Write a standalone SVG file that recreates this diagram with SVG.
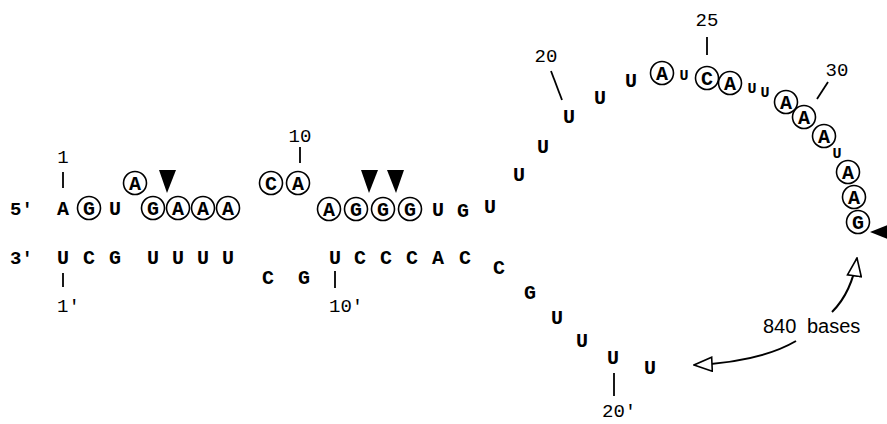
<svg xmlns="http://www.w3.org/2000/svg" width="887" height="424" viewBox="0 0 887 424">
<style>
.b{font-family:"Liberation Mono","DejaVu Sans Mono",monospace;font-weight:bold;font-size:20px;text-anchor:middle;fill:#000}
.s{font-family:"Liberation Mono","DejaVu Sans Mono",monospace;font-weight:bold;font-size:15px;text-anchor:middle;fill:#000}
.n{font-family:"Liberation Mono","DejaVu Sans Mono",monospace;font-size:19px;fill:#000}
.e{font-family:"Liberation Mono","DejaVu Sans Mono",monospace;font-weight:bold;font-size:19px;fill:#000}
.c{fill:#fff;stroke:#000;stroke-width:1.6}
.t{stroke:#000;stroke-width:1.8;fill:none}
.cut{fill:#000}
.arr{stroke:#000;stroke-width:2;fill:none;marker-end:url(#open)}
</style>
<defs>
<marker id="open" viewBox="-1 -1 20 16" refX="18" refY="7" markerWidth="20" markerHeight="16" markerUnits="userSpaceOnUse" orient="auto">
<polygon points="0,0 18,7 0,14" fill="#fff" stroke="#000" stroke-width="1.6"/>
</marker>
</defs>
<rect width="887" height="424" fill="#fff"/>

<g id="ends">
<text class="e" x="10" y="215">5'</text>
<text class="e" x="10" y="264">3'</text>
</g>

<g id="strand5">
<text class="b" x="63" y="215">A</text>
<circle class="c" cx="89" cy="208" r="11.5"/><text class="b" x="89" y="215">G</text>
<text class="b" x="115" y="215">U</text>
<circle class="c" cx="135" cy="183" r="11.5"/><text class="b" x="135" y="190">A</text>
<circle class="c" cx="153" cy="208" r="11.5"/><text class="b" x="153" y="215">G</text>
<circle class="c" cx="178" cy="208" r="11.5"/><text class="b" x="178" y="215">A</text>
<circle class="c" cx="203" cy="208" r="11.5"/><text class="b" x="203" y="215">A</text>
<circle class="c" cx="228" cy="208" r="11.5"/><text class="b" x="228" y="215">A</text>
<circle class="c" cx="271" cy="183" r="11.5"/><text class="b" x="271" y="190">C</text>
<circle class="c" cx="298" cy="183" r="11.5"/><text class="b" x="298" y="190">A</text>
<circle class="c" cx="329" cy="209" r="11.5"/><text class="b" x="329" y="216">A</text>
<circle class="c" cx="356" cy="209" r="11.5"/><text class="b" x="356" y="216">G</text>
<circle class="c" cx="383" cy="209" r="11.5"/><text class="b" x="383" y="216">G</text>
<circle class="c" cx="410" cy="209" r="11.5"/><text class="b" x="410" y="216">G</text>
<text class="b" x="438" y="216">U</text>
<text class="b" x="463" y="217">G</text>
<text class="b" x="490" y="213">U</text>
<text class="b" x="519" y="181">U</text>
<text class="b" x="543" y="153">U</text>
<text class="b" x="569" y="123">U</text>
<text class="b" x="600" y="104">U</text>
<text class="b" x="631" y="87">U</text>
</g>

<g id="loop">
<circle class="c" cx="662" cy="73" r="11.5"/><text class="b" x="662" y="80">A</text>
<text class="s" x="684" y="80">U</text>
<circle class="c" cx="707" cy="78" r="11.5"/><text class="b" x="707" y="85">C</text>
<circle class="c" cx="730" cy="83" r="11.5"/><text class="b" x="730" y="90">A</text>
<text class="s" x="752" y="93">U</text>
<text class="s" x="765" y="97">U</text>
<circle class="c" cx="786" cy="102" r="11.5"/><text class="b" x="786" y="109">A</text>
<circle class="c" cx="804" cy="117" r="11.5"/><text class="b" x="804" y="124">A</text>
<circle class="c" cx="824" cy="136" r="11.5"/><text class="b" x="824" y="143">A</text>
<text class="s" x="837" y="158">U</text>
<circle class="c" cx="848" cy="172" r="11.5"/><text class="b" x="848" y="179">A</text>
<circle class="c" cx="854" cy="197" r="11.5"/><text class="b" x="854" y="204">A</text>
<circle class="c" cx="858" cy="222" r="11.5"/><text class="b" x="858" y="229">G</text>
</g>

<g id="strand3">
<text class="b" x="63" y="264">U</text>
<text class="b" x="89" y="264">C</text>
<text class="b" x="115" y="264">G</text>
<text class="b" x="153" y="264">U</text>
<text class="b" x="178" y="264">U</text>
<text class="b" x="203" y="264">U</text>
<text class="b" x="228" y="264">U</text>
<text class="b" x="268" y="284">C</text>
<text class="b" x="304" y="284">G</text>
<text class="b" x="335" y="264">U</text>
<text class="b" x="360" y="264">C</text>
<text class="b" x="386" y="264">C</text>
<text class="b" x="412" y="264">C</text>
<text class="b" x="438" y="264">A</text>
<text class="b" x="465" y="264">C</text>
<text class="b" x="499" y="274">C</text>
<text class="b" x="530" y="299">G</text>
<text class="b" x="557" y="324">U</text>
<text class="b" x="582" y="347">U</text>
<text class="b" x="613" y="364">U</text>
<text class="b" x="650" y="374">U</text>
</g>

<g id="cuts">
<polygon class="cut" points="159,170 176,170 167,193"/>
<polygon class="cut" points="361,170 378,170 369,193"/>
<polygon class="cut" points="387,170 404,170 396,193"/>
<polygon class="cut" points="870,232 895,222 895,242"/>
</g>

<g id="numbers">
<text class="n" x="63" y="163" text-anchor="middle">1</text>
<text class="n" x="57" y="312">1'</text>
<text class="n" x="300" y="142" text-anchor="middle">10</text>
<text class="n" x="329" y="312">10'</text>
<text class="n" x="546" y="62" text-anchor="middle">20</text>
<text class="n" x="707" y="26" text-anchor="middle">25</text>
<text class="n" x="837" y="76" text-anchor="middle">30</text>
<text class="n" x="602" y="417">20'</text>
</g>

<g id="length-label">
<text x="763" y="333" font-family="'Liberation Sans',Arial,sans-serif" font-size="20" word-spacing="5" fill="#000">840 bases</text>
</g>

<g id="connectors">
<line class="t" x1="63" y1="172" x2="63" y2="188"/>
<line class="t" x1="63" y1="273" x2="63" y2="287"/>
<line class="t" x1="300" y1="147" x2="300" y2="163"/>
<line class="t" x1="335" y1="271" x2="335" y2="288"/>
<line class="t" x1="551" y1="71" x2="562" y2="100"/>
<line class="t" x1="707" y1="37" x2="707" y2="55"/>
<line class="t" x1="828" y1="82" x2="817" y2="99"/>
<line class="t" x1="614" y1="373" x2="614" y2="396"/>
<path class="arr" d="M796,341 Q760,362 694,365"/>
<path class="arr" d="M832,312 Q852,292 857,258"/>
</g>
</svg>
